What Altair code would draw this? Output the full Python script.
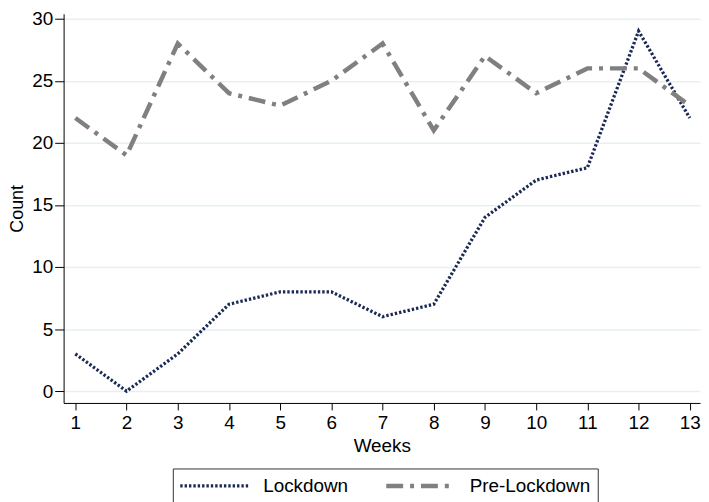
import altair as alt
import pandas as pd

weeks = list(range(1, 14))
lockdown = [3, 0, 3, 7, 8, 8, 6, 7, 14, 17, 18, 29, 22]
pre_lockdown = [22, 19, 28, 24, 23, 25, 28, 21, 27, 24, 26, 26, 23]
series_names = ["Lockdown", "Pre-Lockdown"]
x_ticks = list(range(1, 14))
y_ticks = [0, 5, 10, 15, 20, 25, 30]

rows = []
for w, a, b in zip(weeks, lockdown, pre_lockdown):
    rows.append({"Weeks": w, "Count": a, "Series": series_names[0]})
    rows.append({"Weeks": w, "Count": b, "Series": series_names[1]})
df = pd.DataFrame(rows)

FONT = "Liberation Sans"

chart = alt.Chart(df).mark_line(strokeCap="butt").encode(
    x=alt.X("Weeks:Q",
            scale=alt.Scale(domain=[0.77, 13.2], nice=False, zero=False),
            axis=alt.Axis(values=x_ticks, title="Weeks", grid=False,
                          tickSize=7, tickColor="#000", domainColor="#000",
                          labelFontSize=19, titleFontSize=19, titleFontWeight="normal",
                          labelColor="#000", titleColor="#000", labelPadding=4,
                          titlePadding=4, labelFlush=False)),
    y=alt.Y("Count:Q",
            scale=alt.Scale(domain=[-0.95, 30.4], nice=False, zero=False),
            axis=alt.Axis(values=y_ticks, title="Count", grid=True,
                          gridColor="#e6eff1", gridWidth=1.5,
                          tickSize=9, tickColor="#000", domainColor="#000",
                          labelFontSize=19, titleFontSize=18, titleFontWeight="normal",
                          labelColor="#000", titleColor="#000", labelPadding=2,
                          titlePadding=5, labelFlush=False)),
    color=alt.Color("Series:N",
                    scale=alt.Scale(domain=series_names, range=["#1b2a55", "#808080"]),
                    legend=alt.Legend(title=None, orient="none", direction="horizontal",
                                      legendX=110, legendY=458,
                                      strokeColor="#333", padding=7,
                                      symbolType="M-1.19,0H7.44", symbolSize=256,
                                      symbolStrokeWidth=3.5,
                                      labelFontSize=19, labelColor="#000",
                                      labelOffset=64, columnPadding=28)),
    strokeDash=alt.StrokeDash("Series:N",
                              scale=alt.Scale(domain=series_names,
                                              range=[[2.4, 2.0], [17, 7, 4, 7]]),
                              legend=None),
    strokeWidth=alt.StrokeWidth("Series:N",
                                scale=alt.Scale(domain=series_names, range=[3.3, 4.5]),
                                legend=None),
).properties(
    width=641,
    height=392,
    padding={"left": 0, "top": 0, "right": 0, "bottom": 0},
).configure(font=FONT).configure_view(stroke=None)

chart.save("out.html", embed_options={"renderer": "svg", "actions": False})
